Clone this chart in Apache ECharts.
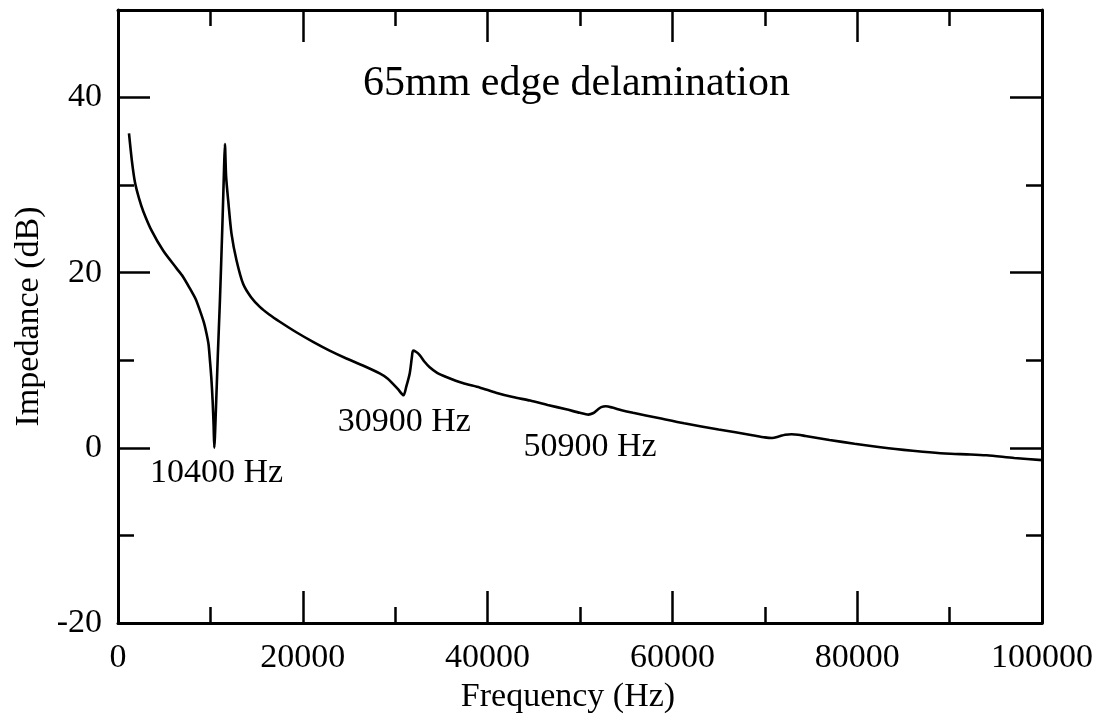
<!DOCTYPE html>
<html lang="en">
<head>
  <meta charset="UTF-8">
  <title>65mm edge delamination</title>
  <script src="https://cdn.jsdelivr.net/npm/echarts@6/dist/echarts.min.js"></script>
  <style>
    html, body { margin: 0; padding: 0; background: #fff; }
    #main { width: 1102px; height: 718px; }
  </style>
</head>
<body>
  <div id="main"></div>
  <script>
    // frequency (Hz) and impedance (dB)
    var freq = [
      1190, 1500, 1840, 2300, 2740, 3640, 4900, 6340, 7000, 7780,
      8400, 8860, 9300, 9590, 9800, 9950, 10100, 10240, 10350, 10420,
      10600, 10800, 11030, 11300, 11480, 11570, 11700, 11930, 12290, 12830,
      13550, 14400, 15350, 16400, 17510, 19300, 21110, 22900, 24720, 26500,
      28320, 29200, 29760, 30300, 30900, 31200, 31570, 31800, 31930, 32200,
      32650, 33200, 33730, 34500, 35530, 37300, 39130, 40900, 42730, 44600,
      46500, 48500, 50000, 50900, 51400, 51900, 52300, 52800, 53500, 54500,
      55740, 58500, 61270, 65000, 68650, 70000, 70800, 71500, 72200, 72900,
      73600, 74400, 77000, 79710, 83400, 87100, 89500, 92260, 94000, 97000,
      100000
    ];
    var impedance = [
      35.9, 32.8, 30.3, 28.4, 27.0, 24.8, 22.5, 20.5, 19.6, 18.2,
      17.0, 15.7, 14.3, 13.0, 11.8, 10.0, 8.0, 5.4, 2.5, 0.0,
      4.5, 10.5, 16.8, 25.5, 32.0, 34.7, 31.0, 28.2, 24.4, 21.4,
      18.7, 17.2, 16.1, 15.2, 14.4, 13.2, 12.1, 11.1, 10.2, 9.4,
      8.5, 7.9, 7.3, 6.7, 6.0, 7.0, 8.5, 10.3, 11.1, 11.0,
      10.6, 9.8, 9.2, 8.6, 8.1, 7.4, 6.9, 6.3, 5.8, 5.4,
      4.9, 4.4, 4.0, 3.8, 3.95, 4.35, 4.65, 4.75, 4.6, 4.3,
      4.0, 3.4, 2.8, 2.1, 1.45, 1.2, 1.13, 1.3, 1.5, 1.55,
      1.5, 1.36, 0.9, 0.47, -0.05, -0.45, -0.65, -0.75, -0.85, -1.15,
      -1.4
    ];

    // resonance notes: label text and the data point where it starts
    var noteText = ['10400 Hz', '30900 Hz', '50900 Hz'];
    var noteFreq = [3460, 23780, 43890];
    var noteDb = [-2.9, 3.0, 0.1];

    var points = freq.map(function (f, i) { return [f, impedance[i]]; });
    var notes = noteText.map(function (t, i) { return { value: [noteFreq[i], noteDb[i]], name: t }; });

    var FONT = 'Liberation Serif';
    var black = '#000';

    function yAxisDef(pos, major, withLabel) {
      return {
        type: 'value',
        position: pos,
        min: -20,
        max: 50,
        interval: major ? 20 : 10,
        axisLine: { show: major, lineStyle: { color: black, width: 3 } },
        axisTick: { show: true, inside: true, length: major ? 32 : 16, lineStyle: { color: black, width: 2.5 } },
        axisLabel: {
          show: withLabel, showMaxLabel: false, margin: 16,
          color: black, fontFamily: FONT, fontSize: 34
        },
        splitLine: { show: false },
        name: withLabel ? 'Impedance (dB)' : '',
        nameLocation: 'middle',
        nameGap: 72,
        nameTextStyle: { color: black, fontFamily: FONT, fontSize: 34 }
      };
    }

    function xAxisDef(pos, withLabel) {
      return {
        type: 'value',
        position: pos,
        min: 0,
        max: 100000,
        interval: 20000,
        axisLine: { show: true, onZero: false, lineStyle: { color: black, width: 3 } },
        axisTick: { show: true, inside: true, length: 32, lineStyle: { color: black, width: 2.5 } },
        minorTick: { show: true, splitNumber: 2, length: 16, lineStyle: { color: black, width: 2.5 } },
        axisLabel: {
          show: withLabel, margin: 18, color: black, fontFamily: FONT, fontSize: 34,
          formatter: function (v) { return String(v); }
        },
        splitLine: { show: false },
        minorSplitLine: { show: false },
        name: withLabel ? 'Frequency (Hz)' : '',
        nameLocation: 'middle',
        nameGap: 48,
        nameTextStyle: { color: black, fontFamily: FONT, fontSize: 34, padding: [0, 24, 0, 0] }
      };
    }

    var myChart = echarts.init(document.getElementById('main'));

    var option = {
      animation: false,
      backgroundColor: '#fff',
      title: {
        text: '65mm edge delamination',
        left: 358,
        top: 58,
        textStyle: { color: black, fontFamily: FONT, fontSize: 42, fontWeight: 'normal' }
      },
      grid: { left: 118, right: 60, top: 10, bottom: 95, outerBoundsMode: 'none' },
      xAxis: [xAxisDef('bottom', true), xAxisDef('top', false)],
      yAxis: [
        yAxisDef('left', true, true),
        yAxisDef('left', false, false),
        yAxisDef('right', true, false),
        yAxisDef('right', false, false)
      ],
      series: [
        {
          type: 'line',
          data: points,
          showSymbol: false,
          smooth: 0.25,
          lineStyle: { color: black, width: 2.6 },
          silent: true
        },
        {
          type: 'scatter',
          data: notes,
          symbolSize: 0,
          silent: true,
          itemStyle: { opacity: 1 },
          label: {
            show: true,
            position: 'right',
            distance: 0,
            formatter: '{b}',
            color: black,
            opacity: 1,
            fontFamily: FONT,
            fontSize: 34
          }
        }
      ]
    };

    myChart.setOption(option);
  </script>
</body>
</html>
